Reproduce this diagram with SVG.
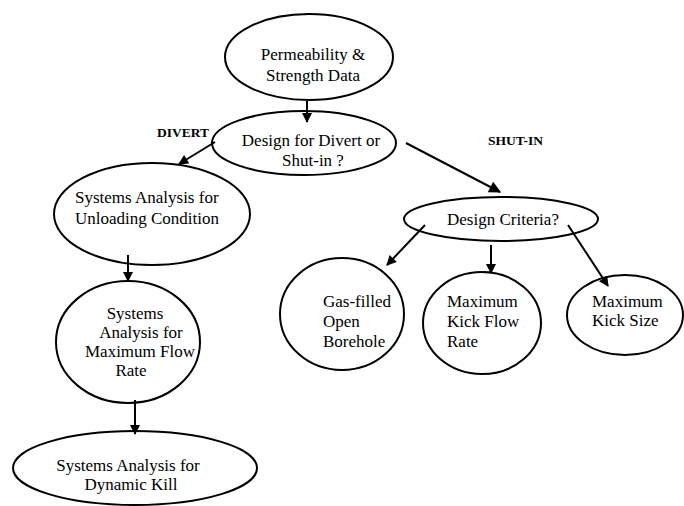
<svg xmlns="http://www.w3.org/2000/svg" width="684" height="506" viewBox="0 0 684 506">
<style>
.n{fill:none;stroke:#000;stroke-width:2}
.t{font-family:'Liberation Serif','DejaVu Serif',serif;font-size:17px;fill:#000}
.c{text-anchor:middle}
.b{font-family:'Liberation Serif','DejaVu Serif',serif;font-size:13.5px;font-weight:bold;fill:#000}
.e{stroke:#000;stroke-width:2;fill:none}
</style>
<defs>
<marker id="ah" viewBox="0 0 10 10" refX="9" refY="5" markerWidth="11" markerHeight="10" markerUnits="userSpaceOnUse" orient="auto">
<path d="M0,0 L10,5 L0,10 Z" fill="#000"/>
</marker>
<marker id="ahb" viewBox="0 0 10 10" refX="9" refY="5" markerWidth="13" markerHeight="12" markerUnits="userSpaceOnUse" orient="auto">
<path d="M0,0 L10,5 L0,10 Z" fill="#000"/>
</marker>
</defs>
<rect width="684" height="506" fill="#fff"/>
<text class="b" x="157" y="137">DIVERT</text>
<text class="b" x="488" y="145">SHUT-IN</text>
<g id="perm">
<ellipse class="n" cx="309" cy="57" rx="84" ry="43"/>
<text class="t c" x="313" y="60">Permeability &amp;</text>
<text class="t c" x="313" y="81">Strength Data</text>
</g>
<g id="design">
<ellipse class="n" cx="304" cy="143" rx="92" ry="32"/>
<text class="t c" x="311" y="146">Design for Divert or</text>
<text class="t c" x="313" y="166">Shut-in ?</text>
</g>
<g id="unload">
<ellipse class="n" cx="152" cy="214" rx="98" ry="51"/>
<text class="t" x="75" y="203">Systems Analysis for</text>
<text class="t" x="75" y="224">Unloading Condition</text>
</g>
<g id="maxflow">
<ellipse class="n" cx="128" cy="342" rx="72" ry="61"/>
<text class="t c" x="135" y="319">Systems</text>
<text class="t c" x="141" y="338">Analysis for</text>
<text class="t c" x="140" y="357">Maximum Flow</text>
<text class="t c" x="131" y="376">Rate</text>
</g>
<g id="dynkill">
<ellipse class="n" cx="135" cy="468" rx="122" ry="37"/>
<text class="t c" x="128" y="471">Systems Analysis for</text>
<text class="t c" x="131" y="490">Dynamic Kill</text>
</g>
<g id="criteria">
<ellipse class="n" cx="501" cy="219" rx="97" ry="22"/>
<text class="t c" x="503" y="225">Design Criteria?</text>
</g>
<g id="gas">
<ellipse class="n" cx="342" cy="314" rx="62" ry="56"/>
<text class="t" x="323" y="307">Gas-filled</text>
<text class="t" x="323" y="327">Open</text>
<text class="t" x="323" y="347">Borehole</text>
</g>
<g id="kickflow">
<ellipse class="n" cx="482" cy="323" rx="59" ry="51"/>
<text class="t" x="447" y="307">Maximum</text>
<text class="t" x="447" y="327">Kick Flow</text>
<text class="t" x="447" y="347">Rate</text>
</g>
<g id="kicksize">
<ellipse class="n" cx="625" cy="315" rx="58" ry="40"/>
<text class="t" x="592" y="307">Maximum</text>
<text class="t" x="592" y="326">Kick Size</text>
</g>
<g id="connectors">
<line class="e" x1="307" y1="101" x2="307" y2="122" marker-end="url(#ah)"/>
<line class="e" x1="215" y1="142" x2="179" y2="164" marker-end="url(#ah)"/>
<line class="e" x1="406" y1="143" x2="500" y2="192" stroke-width="3.5" marker-end="url(#ahb)"/>
<line class="e" x1="128" y1="255" x2="128" y2="281" marker-end="url(#ah)"/>
<line class="e" x1="135" y1="400" x2="135" y2="434" marker-end="url(#ah)"/>
<line class="e" x1="425" y1="225" x2="387" y2="265" marker-end="url(#ah)"/>
<line class="e" x1="491" y1="245" x2="491" y2="273" marker-end="url(#ah)"/>
<line class="e" x1="568" y1="225" x2="608" y2="286" marker-end="url(#ah)"/>
</g>
</svg>
